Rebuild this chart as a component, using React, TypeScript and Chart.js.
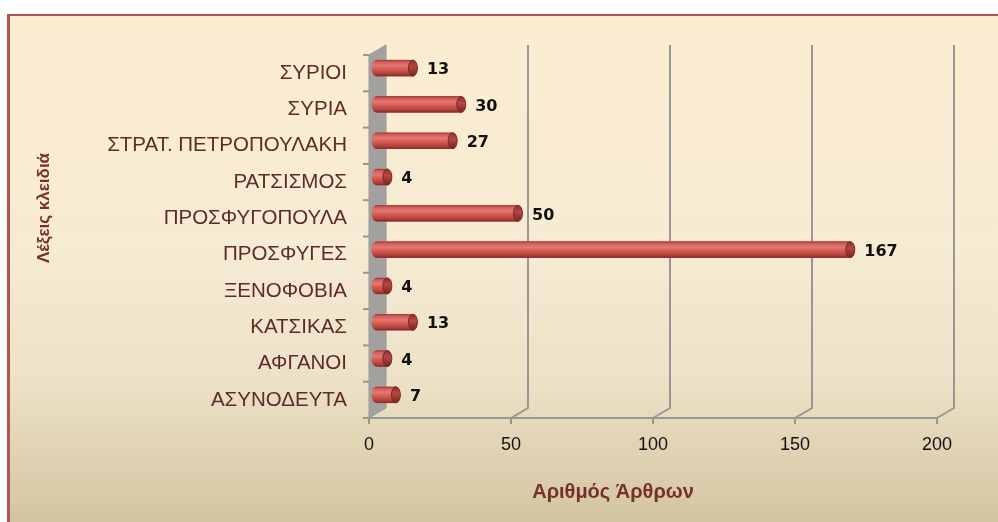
import React, { useEffect, useRef } from 'react';
import { Chart, registerables } from 'chart.js';

Chart.register(...registerables);

// ---- data ----
const categories = [
  'ΣΥΡΙΟΙ',
  'ΣΥΡΙΑ',
  'ΣΤΡΑΤ. ΠΕΤΡΟΠΟΥΛΑΚΗ',
  'ΡΑΤΣΙΣΜΟΣ',
  'ΠΡΟΣΦΥΓΟΠΟΥΛΑ',
  'ΠΡΟΣΦΥΓΕΣ',
  'ΞΕΝΟΦΟΒΙΑ',
  'ΚΑΤΣΙΚΑΣ',
  'ΑΦΓΑΝΟΙ',
  'ΑΣΥΝΟΔΕΥΤΑ',
];
const articleCounts = [13, 30, 27, 4, 50, 167, 4, 13, 4, 7];
const xTickValues = [0, 50, 100, 150, 200];
const yAxisTitle = 'Λέξεις κλειδιά';
const xAxisTitle = 'Αριθμός Άρθρων';

// ---- style ----
const FRONT = { dx: -7, dy: 5 };
const BACK = { dx: 10, dy: -5 };
const GRID_COLOR = '#979797';
const WALL_COLOR = '#A3A1A0';
const TITLE_COLOR = '#76302D';
const CAT_COLOR = '#5E2B2B';

const depthPlugin = {
  id: 'depth3d',
  beforeDatasetsDraw(chart: any) {
    const ctx = chart.ctx;
    const xs = chart.scales.x;
    const { top, bottom } = chart.chartArea;
    const fx = (v: number) => xs.getPixelForValue(v) + FRONT.dx;
    const bx = (v: number) => xs.getPixelForValue(v) + BACK.dx;
    const minV = xTickValues[0];
    const maxV = xTickValues[xTickValues.length - 1];
    ctx.save();
    // side wall
    ctx.fillStyle = WALL_COLOR;
    ctx.beginPath();
    ctx.moveTo(fx(minV), top + FRONT.dy);
    ctx.lineTo(bx(minV), top + BACK.dy);
    ctx.lineTo(bx(minV), bottom + BACK.dy);
    ctx.lineTo(fx(minV), bottom + FRONT.dy);
    ctx.closePath();
    ctx.fill();
    ctx.strokeStyle = '#9A9898';
    ctx.lineWidth = 1;
    ctx.stroke();
    // back gridlines + floor connectors
    ctx.strokeStyle = GRID_COLOR;
    ctx.lineWidth = 2;
    xTickValues.forEach((v) => {
      if (v === minV) return;
      ctx.beginPath();
      ctx.moveTo(bx(v), top + BACK.dy);
      ctx.lineTo(bx(v), bottom + BACK.dy);
      ctx.lineTo(fx(v), bottom + FRONT.dy);
      ctx.stroke();
    });
    // floor front line
    ctx.beginPath();
    ctx.moveTo(fx(minV), bottom + FRONT.dy);
    ctx.lineTo(fx(maxV), bottom + FRONT.dy);
    ctx.stroke();
    // floor ticks
    xTickValues.forEach((v) => {
      ctx.beginPath();
      ctx.moveTo(fx(v), bottom + FRONT.dy);
      ctx.lineTo(fx(v), bottom + FRONT.dy + 6);
      ctx.stroke();
    });
    // category ticks on the wall
    const n = categories.length;
    const step = (bottom - top) / n;
    for (let i = 0; i <= n; i++) {
      const y = top + FRONT.dy + i * step;
      ctx.beginPath();
      ctx.moveTo(fx(minV) - 6, y);
      ctx.lineTo(fx(minV), y);
      ctx.stroke();
    }
    ctx.restore();
  },
};

const cylinderPlugin = {
  id: 'cylinders',
  afterDatasetsDraw(chart: any) {
    const ctx = chart.ctx;
    const meta = chart.getDatasetMeta(0);
    ctx.save();
    meta.data.forEach((el: any, i: number) => {
      const { x, y, base, height } = el.getProps(['x', 'y', 'base', 'height'], true);
      const h = height;
      const t = y - h / 2;
      const b = y + h / 2;
      const rx = 4.5;
      const g = ctx.createLinearGradient(0, t, 0, b);
      g.addColorStop(0, '#9C3A37');
      g.addColorStop(0.12, '#D25D59');
      g.addColorStop(0.35, '#E37873');
      g.addColorStop(0.6, '#D3584F');
      g.addColorStop(0.85, '#B0413D');
      g.addColorStop(1, '#7A2826');
      ctx.fillStyle = g;
      ctx.beginPath();
      ctx.ellipse(base, y, rx, h / 2, 0, Math.PI / 2, (3 * Math.PI) / 2);
      ctx.fill();
      ctx.fillRect(base, t, x - base, h);
      const g2 = ctx.createLinearGradient(0, t, 0, b);
      g2.addColorStop(0, '#8A302E');
      g2.addColorStop(0.4, '#B84743');
      g2.addColorStop(1, '#742523');
      ctx.fillStyle = g2;
      ctx.beginPath();
      ctx.ellipse(x, y, rx, h / 2, 0, 0, Math.PI * 2);
      ctx.fill();
      ctx.strokeStyle = '#7A2826';
      ctx.lineWidth = 1;
      ctx.stroke();
      // value label
      ctx.fillStyle = '#111111';
      ctx.font = 'bold 16px "DejaVu Sans"';
      ctx.textAlign = 'left';
      ctx.textBaseline = 'middle';
      ctx.fillText(String(articleCounts[i]), x + 14, y + 2);
    });
    ctx.restore();
  },
};

const titlesPlugin = {
  id: 'axisTitles',
  afterDraw(chart: any) {
    const ctx = chart.ctx;
    ctx.save();
    ctx.fillStyle = TITLE_COLOR;
    ctx.textAlign = 'center';
    ctx.textBaseline = 'middle';
    ctx.font = 'bold 17px "Liberation Sans"';
    ctx.translate(44, 208);
    ctx.rotate(-Math.PI / 2);
    ctx.fillText(yAxisTitle, 0, 0);
    ctx.restore();
    ctx.save();
    ctx.fillStyle = TITLE_COLOR;
    ctx.textAlign = 'center';
    ctx.textBaseline = 'middle';
    ctx.font = 'bold 20px "Liberation Sans"';
    ctx.fillText(xAxisTitle, 613, 492);
    ctx.restore();
  },
};

export default function App() {
  const canvasRef = useRef<HTMLCanvasElement | null>(null);

  useEffect(() => {
    document.body.style.margin = '0';
    const canvas = canvasRef.current;
    if (!canvas) return;
    const chart = new Chart(canvas, {
      type: 'bar',
      data: {
        labels: categories,
        datasets: [
          {
            label: xAxisTitle,
            data: articleCounts,
            backgroundColor: '#C4504C',
            borderWidth: 0,
            barThickness: 16,
          },
        ],
      },
      options: {
        indexAxis: 'y',
        responsive: false,
        animation: false,
        layout: { padding: { top: 50, right: 54, left: 0, bottom: 0 } },
        plugins: {
          legend: { display: false },
          tooltip: { enabled: false },
          title: { display: false },
        },
        scales: {
          x: {
            min: xTickValues[0],
            max: xTickValues[xTickValues.length - 1],
            afterBuildTicks: (scale: any) => {
              scale.ticks = xTickValues.map((v) => ({ value: v }));
            },
            grid: { display: false, drawTicks: false },
            border: { display: false },
            ticks: {
              font: { family: '"Liberation Sans"', size: 18 },
              color: '#111111',
              padding: 21,
              labelOffset: FRONT.dx,
              maxRotation: 0,
            },
            afterFit: (scale: any) => {
              scale.height = 109;
            },
          },
          y: {
            grid: { display: false, drawTicks: false },
            border: { display: false },
            ticks: {
              font: { family: '"Liberation Sans"', size: 20.5 },
              color: CAT_COLOR,
              padding: 29,
              labelOffset: FRONT.dy,
            },
            afterFit: (scale: any) => {
              scale.width = 376;
            },
          },
        },
      },
      plugins: [depthPlugin, cylinderPlugin, titlesPlugin],
    });
    return () => chart.destroy();
  }, []);

  return (
    <div
      style={{
        position: 'relative',
        width: 998,
        height: 522,
        overflow: 'hidden',
        background: '#ffffff',
      }}
    >
      <div
        style={{
          position: 'absolute',
          left: 7,
          top: 14,
          width: 1010,
          height: 520,
          borderTop: '2px solid #B9524F',
          borderLeft: '3px solid #B9524F',
          background:
            'linear-gradient(to bottom, #FCEDD1 0%, #F6EBD3 45%, #EDE2C7 70%, #D1C19D 100%)',
        }}
      />
      <canvas
        ref={canvasRef}
        width={998}
        height={522}
        style={{ position: 'absolute', left: 0, top: 0 }}
      />
    </div>
  );
}
